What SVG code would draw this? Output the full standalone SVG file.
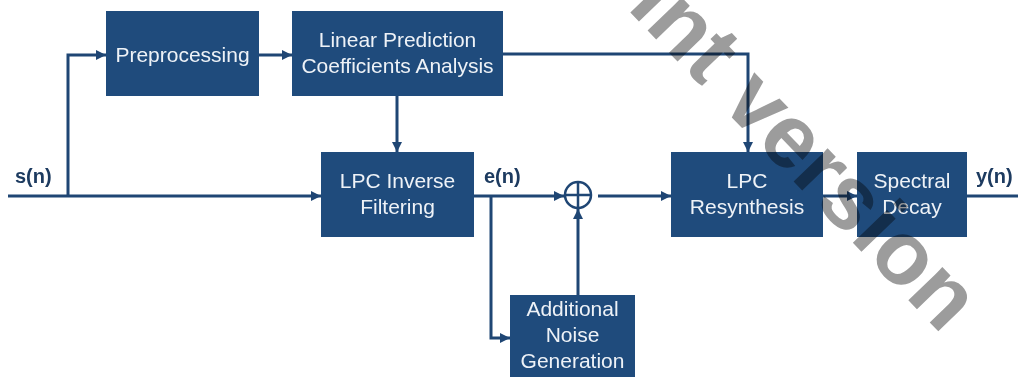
<svg xmlns="http://www.w3.org/2000/svg" width="1018" height="377" viewBox="0 0 1018 377">
  <style>
    .box { fill: #1f4b7c; }
    .lbl { fill: #eef2f7; font-family: "Liberation Sans", Arial, sans-serif; font-size: 21px; text-anchor: middle; }
    .sig { fill: #1d3b60; font-family: "Liberation Sans", Arial, sans-serif; font-size: 20px; font-weight: bold; }
    .wire { fill: none; stroke: #1f4674; stroke-width: 3; }
    .wm { fill: #9c9c9c; font-family: "Liberation Sans", Arial, sans-serif; font-size: 90px; font-weight: bold; mix-blend-mode: multiply; }
  </style>
  <defs>
    <marker id="arrow" viewBox="0 0 10 10" refX="10" refY="5" markerWidth="11" markerHeight="10" markerUnits="userSpaceOnUse" orient="auto">
      <path d="M0,0 L10,5 L0,10 z" fill="#1f4674"/>
    </marker>
  </defs>
  <rect width="1018" height="377" fill="#ffffff"/>

  <!-- connectors -->
  <g id="connectors">
    <path class="wire" d="M8,196 H321" marker-end="url(#arrow)"/>
    <path class="wire" d="M68,196 V55 H106" marker-end="url(#arrow)"/>
    <path class="wire" d="M259,55 H292" marker-end="url(#arrow)"/>
    <path class="wire" d="M397,96 V152" marker-end="url(#arrow)"/>
    <path class="wire" d="M503,54 H748 V152" marker-end="url(#arrow)"/>
    <path class="wire" d="M474,196 H564" marker-end="url(#arrow)"/>
    <path class="wire" d="M491,196 V338 H510" marker-end="url(#arrow)"/>
    <path class="wire" d="M578,295 V209" marker-end="url(#arrow)"/>
    <path class="wire" d="M598,196 H671" marker-end="url(#arrow)"/>
    <path class="wire" d="M823,196 H857" marker-end="url(#arrow)"/>
    <path class="wire" d="M967,196 H1018"/>
  </g>

  <!-- summing junction -->
  <g id="sum">
    <circle cx="578" cy="195" r="13" fill="none" stroke="#1f4674" stroke-width="2.5"/>
    <path d="M565,195 H591 M578,182 V208" stroke="#1f4674" stroke-width="2.5"/>
  </g>

  <g id="preprocessing">
    <rect class="box" x="106" y="11" width="153" height="85"/>
    <text class="lbl" x="182.5" y="62">Preprocessing</text>
  </g>
  <g id="lpc-analysis">
    <rect class="box" x="292" y="11" width="211" height="85"/>
    <text class="lbl" x="397.5" y="47">Linear Prediction</text>
    <text class="lbl" x="397.5" y="73">Coefficients Analysis</text>
  </g>
  <g id="inverse-filtering">
    <rect class="box" x="321" y="152" width="153" height="85"/>
    <text class="lbl" x="397.5" y="188">LPC Inverse</text>
    <text class="lbl" x="397.5" y="214">Filtering</text>
  </g>
  <g id="resynthesis">
    <rect class="box" x="671" y="152" width="152" height="85"/>
    <text class="lbl" x="747" y="188">LPC</text>
    <text class="lbl" x="747" y="214">Resynthesis</text>
  </g>
  <g id="spectral-decay">
    <rect class="box" x="857" y="152" width="110" height="85"/>
    <text class="lbl" x="912" y="188">Spectral</text>
    <text class="lbl" x="912" y="214">Decay</text>
  </g>
  <g id="noise">
    <rect class="box" x="510" y="295" width="125" height="90"/>
    <text class="lbl" x="572.5" y="316">Additional</text>
    <text class="lbl" x="572.5" y="342">Noise</text>
    <text class="lbl" x="572.5" y="368">Generation</text>
  </g>

  <!-- signal labels -->
  <g id="signals">
    <text class="sig" x="15" y="183">s(n)</text>
    <text class="sig" x="484" y="183">e(n)</text>
    <text class="sig" x="976" y="183">y(n)</text>
  </g>

  <!-- diagonal watermark -->
  <text class="wm" transform="translate(626,8) rotate(46)">int version</text>
</svg>
